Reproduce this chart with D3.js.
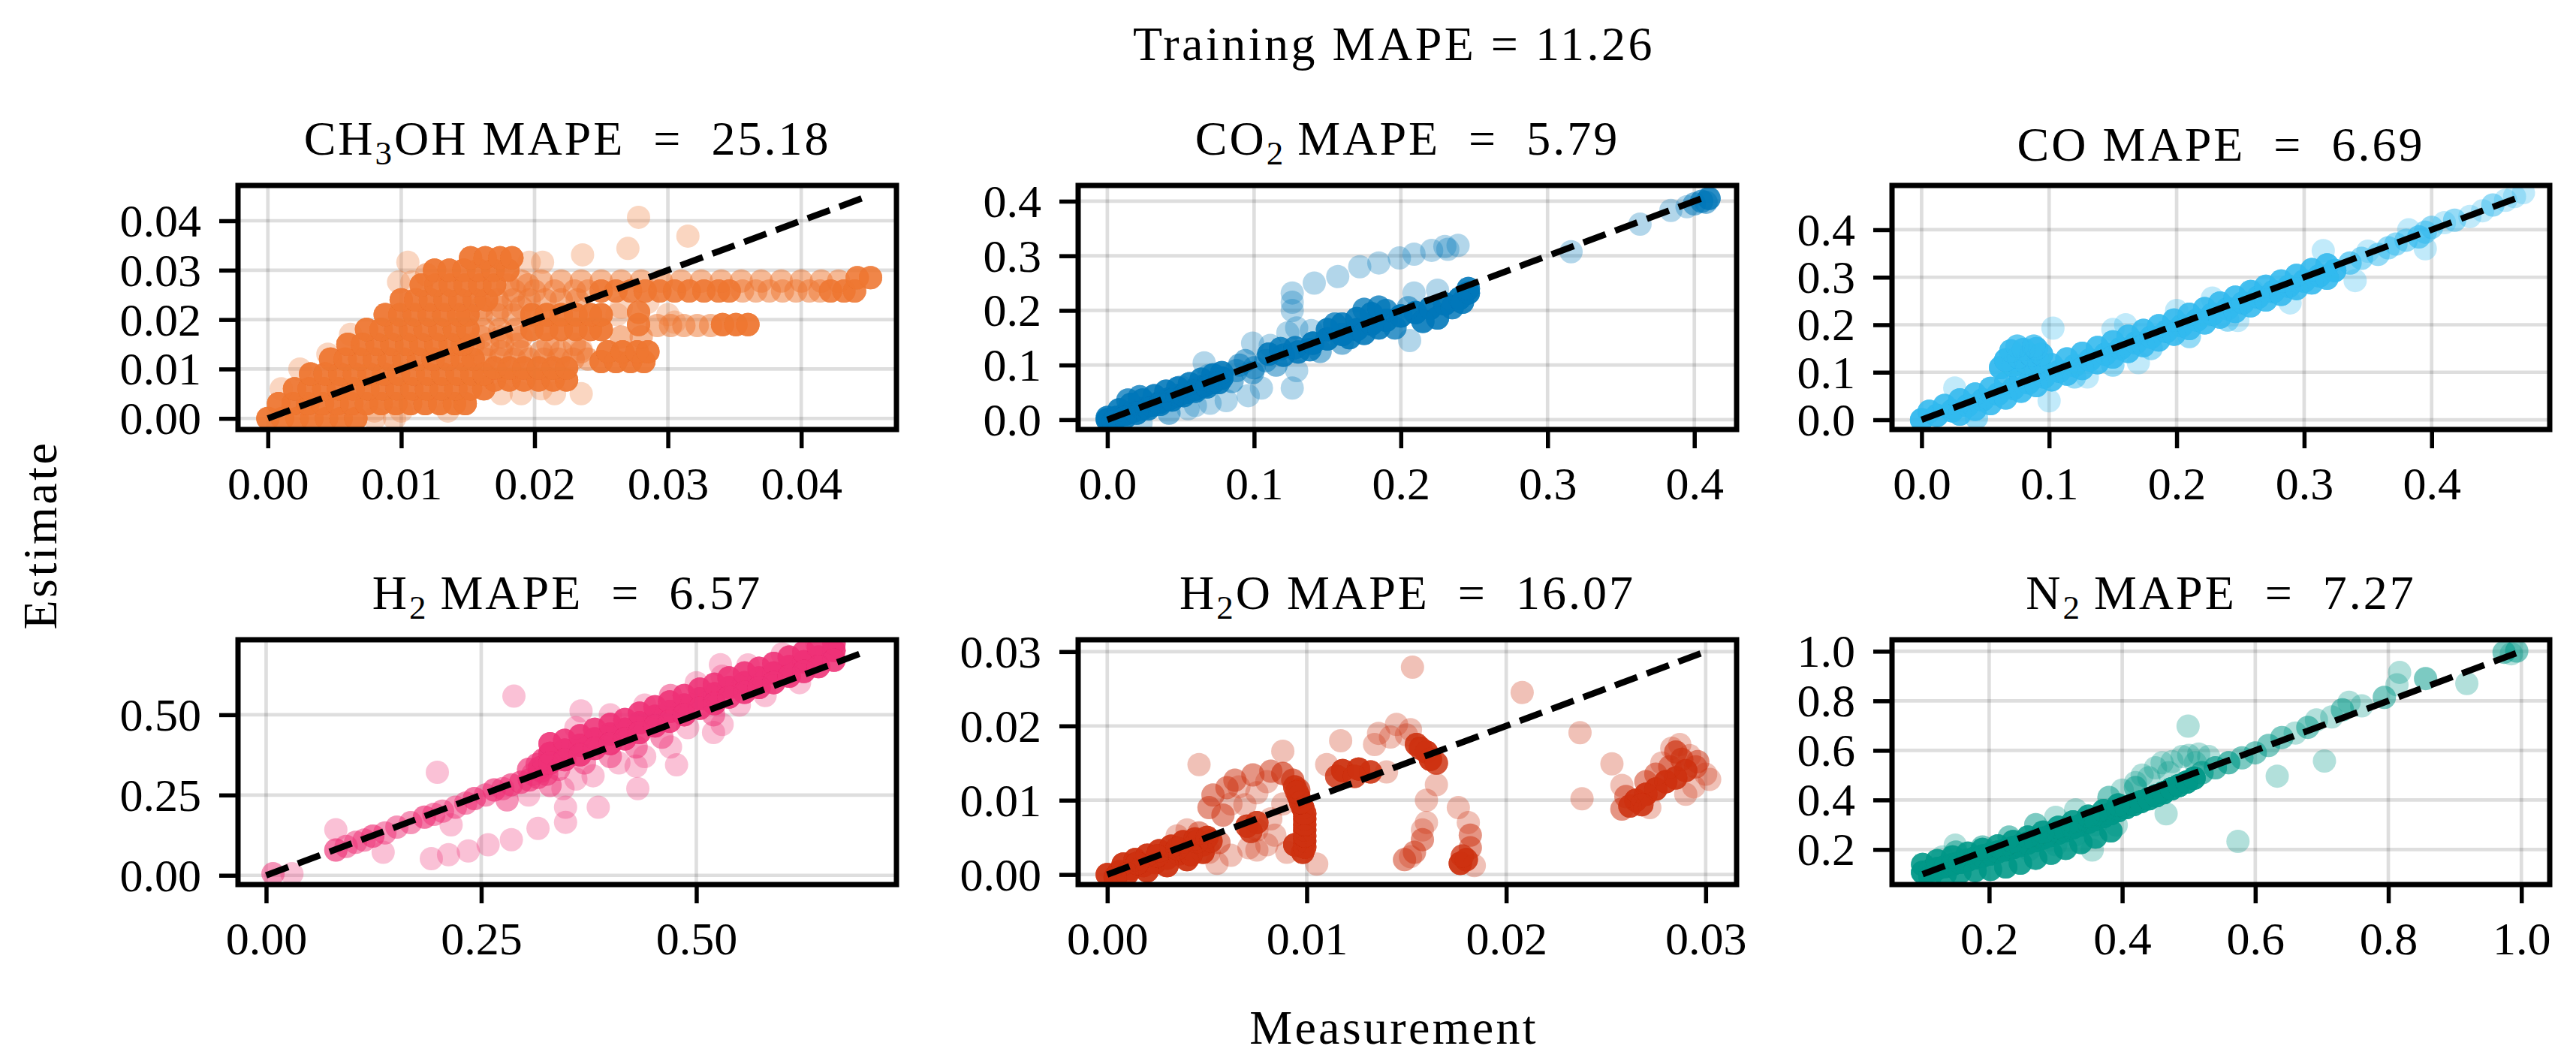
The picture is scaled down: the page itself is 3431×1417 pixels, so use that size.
<!DOCTYPE html>
<html>
<head>
<meta charset="utf-8">
<script src="https://cdn.jsdelivr.net/npm/d3@7"></script>
<style>
  body { margin: 0; background: #fff; }
  text { font-family: 'Liberation Serif', 'Times New Roman', serif; fill: #000; }
</style>
</head>
<body>
<svg id="chart"></svg>
<script>
// panel labels and scores
const species = ['CH3OH', 'CO2', 'CO', 'H2', 'H2O', 'N2'];
const mape = [25.18, 5.79, 6.69, 6.57, 16.07, 7.27];
const trainingMape = 11.26;
const colors = ['#EE7733', '#0077BB', '#33BBEE', '#EE3377', '#CC3311', '#009988'];

// ticks and axis limits, one entry per panel
const xTicks = [[0, 0.01, 0.02, 0.03, 0.04], [0, 0.1, 0.2, 0.3, 0.4], [0, 0.1, 0.2, 0.3, 0.4], [0, 0.25, 0.5], [0, 0.01, 0.02, 0.03], [0.2, 0.4, 0.6, 0.8, 1.0]];
const yTicks = [[0, 0.01, 0.02, 0.03, 0.04], [0, 0.1, 0.2, 0.3, 0.4], [0, 0.1, 0.2, 0.3, 0.4], [0, 0.25, 0.5], [0, 0.01, 0.02, 0.03], [0.2, 0.4, 0.6, 0.8, 1.0]];
const tickFormats = ['.2f', '.1f', '.1f', '.2f', '.2f', '.1f'];
const xLimits = [[-0.00224, 0.04714], [-0.0199, 0.4288], [-0.0232, 0.4926], [-0.0327, 0.7326], [-0.00146, 0.03155], [0.054, 1.0426]];
const yLimits = [[-0.00224, 0.04714], [-0.0180, 0.4288], [-0.0205, 0.4932], [-0.0287, 0.7336], [-0.00135, 0.0316], [0.0586, 1.0465]];
// ends of the dashed y = x reference line
const parityRange = [[0, 0.0449], [0, 0.408], [0, 0.469], [0, 0.697], [0, 0.030], [0.1, 0.998]];

// CH3OH: rows of [estimate, overlapping samples, [measurements]]
const ch3ohRows = [
  [0.0000, 8, [0.0000, 0.0011, 0.0022, 0.0033, 0.0044, 0.0055, 0.0066]],
  [0.0030, 8, [0.0008, 0.0019, 0.0030, 0.0041, 0.0052, 0.0063, 0.0074, 0.0085, 0.0096, 0.0107, 0.0118, 0.0129, 0.0140, 0.0148]],
  [0.0060, 8, [0.0020, 0.0031, 0.0042, 0.0053, 0.0064, 0.0075, 0.0086, 0.0097, 0.0108, 0.0119, 0.0130, 0.0141, 0.0152, 0.0162]],
  [0.0078, 8, [0.0170, 0.0181, 0.0192, 0.0203, 0.0214, 0.0224]],
  [0.0090, 8, [0.0032, 0.0043, 0.0054, 0.0065, 0.0076, 0.0087, 0.0098, 0.0109, 0.0120, 0.0131, 0.0142, 0.0153, 0.0162]],
  [0.0102, 8, [0.0170, 0.0181, 0.0192, 0.0203, 0.0214, 0.0224]],
  [0.0120, 8, [0.0047, 0.0058, 0.0069, 0.0080, 0.0091, 0.0102, 0.0113, 0.0124, 0.0135, 0.0146, 0.0154]],
  [0.0120, 2, [0.0163, 0.0174, 0.0185, 0.0196, 0.0207, 0.0218, 0.0229, 0.0240]],
  [0.0115, 8, [0.0250, 0.0261, 0.0272, 0.0282]],
  [0.0135, 8, [0.0255, 0.0266, 0.0277, 0.0285]],
  [0.0135, 2, [0.0160, 0.0175, 0.0190, 0.0205, 0.0220, 0.0235]],
  [0.0150, 8, [0.0060, 0.0071, 0.0082, 0.0093, 0.0104, 0.0115, 0.0126, 0.0137, 0.0146]],
  [0.0150, 2, [0.0154, 0.0165, 0.0176, 0.0187, 0.0210, 0.0230]],
  [0.0165, 2, [0.0160, 0.0175, 0.0190, 0.0265, 0.0280]],
  [0.0180, 8, [0.0074, 0.0085, 0.0096, 0.0107, 0.0118, 0.0129, 0.0140, 0.0150]],
  [0.0180, 2, [0.0162, 0.0174, 0.0186]],
  [0.0180, 8, [0.0198, 0.0209, 0.0220, 0.0231, 0.0242, 0.0250]],
  [0.0190, 6, [0.0278]],
  [0.0188, 2, [0.0292, 0.0302, 0.0312, 0.0322, 0.0332]],
  [0.0190, 8, [0.0341, 0.0351, 0.0360]],
  [0.0210, 8, [0.0088, 0.0099, 0.0110, 0.0121, 0.0132, 0.0143, 0.0150]],
  [0.0210, 2, [0.0160, 0.0172, 0.0184]],
  [0.0210, 8, [0.0198, 0.0209, 0.0220, 0.0231, 0.0242, 0.0250]],
  [0.0215, 6, [0.0278]],
  [0.0210, 1, [0.0300, 0.0262]],
  [0.0225, 2, [0.0160, 0.0175, 0.0190]],
  [0.0240, 8, [0.0100, 0.0111, 0.0122, 0.0133, 0.0144, 0.0155, 0.0164]],
  [0.0240, 2, [0.0172, 0.0184, 0.0196, 0.0208, 0.0220, 0.0232]],
  [0.0258, 2, [0.0185, 0.0200, 0.0215, 0.0230, 0.0240]],
  [0.0258, 6, [0.0250, 0.0261, 0.0272, 0.0283, 0.0294, 0.0305, 0.0316, 0.0327, 0.0338, 0.0346]],
  [0.0258, 2, [0.0356, 0.0366, 0.0376, 0.0386, 0.0396, 0.0406, 0.0414]],
  [0.0258, 6, [0.0422, 0.0432, 0.0440]],
  [0.0270, 8, [0.0115, 0.0126, 0.0137, 0.0148, 0.0159, 0.0170]],
  [0.0270, 2, [0.0180, 0.0195]],
  [0.0278, 2, [0.0190, 0.0205, 0.0220, 0.0235, 0.0250, 0.0265, 0.0280, 0.0295, 0.0310, 0.0325, 0.0340, 0.0355, 0.0370, 0.0385, 0.0400, 0.0415, 0.0428]],
  [0.0285, 6, [0.0442, 0.0452]],
  [0.0300, 8, [0.0125, 0.0136, 0.0147, 0.0158, 0.0169, 0.0180]],
  [0.0325, 8, [0.0152, 0.0163, 0.0174, 0.0183]],
  [0.0316, 1, [0.0105, 0.0196, 0.0206]],
  [0.0276, 1, [0.0098, 0.0108]],
  [0.0291, 2, [0.0119]],
  [0.0170, 1, [0.0062]],
  [0.0130, 1, [0.0045]],
  [0.0100, 1, [0.0024]],
  [0.0060, 1, [0.0010]],
  [0.0331, 1, [0.0236]],
  [0.0344, 1, [0.0270]],
  [0.0407, 1, [0.0278]],
  [0.0369, 1, [0.0315]],
  [0.0015, 1, [0.0135, 0.0100, 0.0080]],
  [0.0050, 1, [0.0175, 0.0190, 0.0215, 0.0235]],
  [0.0060, 1, [0.0205]],
  [0.0195, 1, [0.0305]],
  [0.0235, 1, [0.0285]],
  [0.0225, 1, [0.0265]],
  [0.0140, 1, [0.0215, 0.0235]],
  [0.0000, 1, [0.0080, 0.0095]]
];

// other panels: [measurement, estimate, overlapping samples]
const co2Points = [
  [0.000, 0.000, 8], [0.006, 0.004, 8], [0.012, 0.010, 8], [0.018, 0.016, 8], [0.024, 0.020, 8], [0.030, 0.026, 8], [0.036, 0.032, 8],
  [0.042, 0.038, 8], [0.048, 0.044, 8], [0.054, 0.050, 8], [0.060, 0.056, 8], [0.066, 0.062, 8], [0.072, 0.068, 8], [0.078, 0.076, 8],
  [0.000, 0.004, 6], [0.008, 0.018, 6], [0.016, 0.028, 6], [0.024, 0.036, 6], [0.032, 0.044, 6], [0.040, 0.052, 6], [0.048, 0.058, 6],
  [0.056, 0.066, 6], [0.064, 0.074, 6], [0.072, 0.082, 6], [0.078, 0.086, 6], [0.014, 0.036, 4], [0.022, 0.042, 4],
  [0.004, -0.004, 6], [0.012, 0.004, 6], [0.020, 0.012, 6], [0.028, 0.020, 6], [0.036, 0.028, 6], [0.044, 0.036, 6], [0.052, 0.044, 6],
  [0.060, 0.052, 6], [0.068, 0.060, 6], [0.076, 0.068, 6],
  [0.023, -0.006, 1], [0.042, 0.012, 2], [0.055, 0.020, 1], [0.060, 0.026, 1], [0.070, 0.030, 1], [0.081, 0.035, 1], [0.066, 0.104, 1],
  [0.069, 0.081, 1], [0.050, 0.060, 1], [0.085, 0.070, 2],
  [0.096, 0.044, 1], [0.105, 0.058, 1], [0.099, 0.086, 2], [0.094, 0.108, 2], [0.099, 0.140, 1], [0.111, 0.136, 1], [0.108, 0.108, 2],
  [0.126, 0.058, 1], [0.129, 0.090, 1], [0.123, 0.159, 1], [0.126, 0.200, 1], [0.126, 0.215, 1], [0.090, 0.100, 2], [0.088, 0.090, 2],
  [0.100, 0.095, 2], [0.115, 0.100, 2],
  [0.110, 0.120, 6], [0.120, 0.118, 6], [0.130, 0.124, 6], [0.118, 0.130, 5], [0.128, 0.132, 5], [0.138, 0.128, 5],
  [0.140, 0.140, 8], [0.150, 0.148, 8], [0.160, 0.156, 8], [0.170, 0.165, 8], [0.180, 0.175, 8], [0.190, 0.182, 8], [0.200, 0.190, 8],
  [0.210, 0.196, 8], [0.220, 0.204, 8], [0.230, 0.212, 8], [0.240, 0.222, 8], [0.246, 0.232, 8], [0.246, 0.240, 6],
  [0.150, 0.165, 6], [0.160, 0.175, 6], [0.170, 0.185, 6], [0.180, 0.194, 6], [0.175, 0.202, 4], [0.165, 0.150, 6], [0.175, 0.158, 6],
  [0.185, 0.168, 6], [0.190, 0.200, 4], [0.185, 0.206, 4], [0.155, 0.175, 4], [0.215, 0.180, 6], [0.225, 0.186, 6], [0.235, 0.205, 5],
  [0.242, 0.215, 6], [0.205, 0.205, 2], [0.196, 0.168, 4],
  [0.206, 0.145, 1], [0.209, 0.232, 1], [0.225, 0.237, 1], [0.139, 0.163, 1], [0.129, 0.168, 1], [0.145, 0.125, 2], [0.160, 0.140, 2],
  [0.126, 0.232, 1], [0.141, 0.250, 1], [0.157, 0.262, 1], [0.172, 0.280, 1], [0.185, 0.287, 1], [0.199, 0.296, 1], [0.209, 0.303, 1],
  [0.221, 0.310, 1], [0.230, 0.317, 1], [0.239, 0.319, 1], [0.232, 0.312, 1],
  [0.316, 0.3075, 1], [0.363, 0.358, 1], [0.384, 0.383, 1], [0.395, 0.390, 1], [0.400, 0.395, 2], [0.405, 0.400, 3], [0.410, 0.405, 5],
  [0.408, 0.398, 2]
];

const coPoints = [
  [0.000, 0.000, 8], [0.012, 0.009, 8], [0.024, 0.019, 8], [0.036, 0.030, 8], [0.048, 0.042, 8], [0.060, 0.054, 8], [0.072, 0.066, 8],
  [0.084, 0.078, 8], [0.096, 0.090, 8], [0.108, 0.102, 8], [0.120, 0.114, 8], [0.132, 0.126, 8], [0.144, 0.138, 8], [0.156, 0.150, 8],
  [0.168, 0.162, 8], [0.180, 0.174, 8], [0.192, 0.186, 8], [0.204, 0.198, 8], [0.216, 0.210, 8], [0.228, 0.222, 8], [0.240, 0.234, 8],
  [0.252, 0.246, 8], [0.264, 0.258, 8], [0.276, 0.270, 8], [0.288, 0.281, 8], [0.300, 0.292, 8], [0.312, 0.303, 8], [0.324, 0.314, 8],
  [0.006, 0.018, 6], [0.018, 0.030, 6], [0.030, 0.042, 6], [0.042, 0.054, 6], [0.054, 0.066, 6], [0.066, 0.078, 6], [0.078, 0.090, 6],
  [0.090, 0.104, 6], [0.102, 0.116, 6], [0.114, 0.128, 6], [0.126, 0.140, 6], [0.138, 0.152, 6], [0.150, 0.164, 6], [0.162, 0.176, 6],
  [0.174, 0.188, 6], [0.186, 0.198, 6], [0.198, 0.210, 6], [0.210, 0.222, 6], [0.222, 0.234, 6], [0.234, 0.246, 6], [0.246, 0.258, 6],
  [0.258, 0.270, 6], [0.270, 0.281, 6], [0.282, 0.292, 6], [0.294, 0.304, 6], [0.306, 0.316, 6], [0.318, 0.326, 6],
  [0.030, 0.012, 6], [0.042, 0.022, 6], [0.054, 0.034, 6], [0.066, 0.046, 6], [0.078, 0.060, 6], [0.090, 0.072, 6], [0.102, 0.084, 6],
  [0.114, 0.096, 6], [0.126, 0.108, 6], [0.138, 0.120, 6], [0.150, 0.132, 6], [0.162, 0.144, 6], [0.174, 0.156, 6], [0.186, 0.168, 6],
  [0.198, 0.180, 6], [0.210, 0.192, 6], [0.222, 0.204, 6], [0.234, 0.216, 6], [0.246, 0.228, 6], [0.258, 0.240, 6], [0.270, 0.252, 6],
  [0.282, 0.264, 6], [0.294, 0.276, 6], [0.306, 0.288, 6], [0.318, 0.298, 6],
  [0.120, 0.090, 2], [0.150, 0.115, 2], [0.180, 0.150, 2], [0.210, 0.175, 2], [0.240, 0.210, 2],
  [0.062, 0.110, 8], [0.072, 0.115, 8], [0.082, 0.120, 8], [0.092, 0.122, 8], [0.066, 0.126, 8], [0.076, 0.132, 8], [0.086, 0.136, 8],
  [0.094, 0.138, 8], [0.070, 0.145, 6], [0.080, 0.148, 6], [0.090, 0.150, 6], [0.075, 0.155, 4], [0.088, 0.155, 4],
  [0.103, 0.193, 1], [0.026, 0.067, 1], [0.043, 0.004, 2], [0.248, 0.209, 1], [0.289, 0.246, 1], [0.340, 0.293, 1], [0.315, 0.356, 1],
  [0.150, 0.190, 1], [0.160, 0.200, 1], [0.170, 0.120, 1], [0.130, 0.090, 1], [0.100, 0.040, 1], [0.200, 0.230, 1], [0.228, 0.256, 1],
  [0.260, 0.270, 1],
  [0.336, 0.330, 3], [0.345, 0.340, 2], [0.350, 0.355, 1], [0.358, 0.348, 2], [0.366, 0.362, 2], [0.372, 0.370, 2], [0.380, 0.378, 2],
  [0.390, 0.385, 3], [0.395, 0.395, 2], [0.400, 0.405, 2], [0.410, 0.415, 1], [0.418, 0.420, 2], [0.430, 0.428, 1], [0.440, 0.440, 1],
  [0.448, 0.452, 2], [0.458, 0.462, 1], [0.465, 0.470, 1], [0.472, 0.478, 1], [0.382, 0.400, 1], [0.395, 0.360, 1]
];

const h2Points = [
  [0.008, 0.005, 2], [0.030, 0.005, 1],
  [0.081, 0.079, 3], [0.093, 0.090, 2], [0.104, 0.103, 2], [0.114, 0.110, 2], [0.124, 0.122, 3], [0.138, 0.132, 2], [0.152, 0.150, 2],
  [0.168, 0.164, 2], [0.184, 0.181, 3], [0.195, 0.190, 2], [0.205, 0.200, 2], [0.220, 0.212, 2], [0.232, 0.225, 2], [0.242, 0.239, 3],
  [0.255, 0.250, 2], [0.265, 0.266, 3], [0.275, 0.270, 2], [0.285, 0.282, 3], [0.296, 0.290, 3], [0.306, 0.297, 3], [0.316, 0.305, 3],
  [0.326, 0.315, 3],
  [0.305, 0.330, 3], [0.315, 0.345, 3], [0.320, 0.325, 3], [0.310, 0.315, 2], [0.318, 0.335, 5], [0.322, 0.360, 4],
  [0.081, 0.142, 1], [0.199, 0.321, 1], [0.288, 0.558, 1], [0.136, 0.072, 1], [0.215, 0.157, 1], [0.192, 0.052, 1], [0.212, 0.064, 1],
  [0.235, 0.076, 1], [0.258, 0.095, 1], [0.285, 0.111, 1], [0.316, 0.146, 1], [0.348, 0.165, 1], [0.348, 0.212, 1], [0.386, 0.212, 1],
  [0.432, 0.270, 1], [0.366, 0.512, 1], [0.477, 0.344, 1], [0.520, 0.445, 1], [0.528, 0.656, 1], [0.305, 0.250, 1], [0.280, 0.235, 2],
  [0.330, 0.280, 2], [0.345, 0.270, 1],
  [0.330, 0.380, 8], [0.347, 0.390, 8], [0.365, 0.405, 8], [0.382, 0.425, 8], [0.400, 0.440, 8], [0.417, 0.455, 8], [0.434, 0.475, 8],
  [0.452, 0.495, 8], [0.469, 0.510, 8], [0.486, 0.530, 8], [0.504, 0.550, 8], [0.521, 0.565, 8], [0.538, 0.585, 8], [0.556, 0.600, 8],
  [0.573, 0.615, 8], [0.590, 0.630, 8], [0.608, 0.650, 8], [0.625, 0.665, 8], [0.642, 0.680, 8], [0.660, 0.700, 8],
  [0.330, 0.410, 6], [0.347, 0.420, 6], [0.365, 0.435, 6], [0.382, 0.455, 6], [0.400, 0.470, 6], [0.417, 0.485, 6], [0.434, 0.505, 6],
  [0.452, 0.525, 6], [0.469, 0.540, 6], [0.486, 0.560, 6], [0.504, 0.580, 6], [0.521, 0.595, 6], [0.538, 0.615, 6], [0.556, 0.630, 6],
  [0.573, 0.645, 6], [0.590, 0.660, 6], [0.608, 0.680, 6], [0.625, 0.695, 6], [0.642, 0.710, 6], [0.660, 0.722, 6],
  [0.330, 0.350, 6], [0.347, 0.360, 6], [0.365, 0.375, 6], [0.382, 0.395, 6], [0.400, 0.410, 6], [0.417, 0.425, 6], [0.434, 0.445, 6],
  [0.452, 0.465, 6], [0.469, 0.480, 6], [0.486, 0.500, 6], [0.504, 0.520, 6], [0.521, 0.535, 6], [0.538, 0.555, 6], [0.556, 0.570, 6],
  [0.573, 0.585, 6], [0.590, 0.600, 6], [0.608, 0.620, 6], [0.625, 0.635, 6], [0.642, 0.650, 6], [0.660, 0.670, 6],
  [0.360, 0.460, 1], [0.400, 0.500, 1], [0.440, 0.530, 1], [0.470, 0.560, 2], [0.500, 0.600, 1], [0.530, 0.620, 1], [0.560, 0.655, 1],
  [0.600, 0.690, 1], [0.640, 0.720, 1],
  [0.340, 0.330, 2], [0.370, 0.350, 2], [0.400, 0.370, 2], [0.430, 0.400, 2], [0.460, 0.430, 2], [0.490, 0.460, 1], [0.520, 0.500, 2],
  [0.550, 0.530, 1], [0.580, 0.560, 1], [0.620, 0.600, 1], [0.410, 0.350, 1], [0.440, 0.370, 1], [0.470, 0.400, 1], [0.530, 0.470, 1],
  [0.360, 0.300, 1], [0.380, 0.310, 1], [0.430, 0.340, 1]
];

const h2oPoints = [
  [0.0000, 0.0000, 8], [0.0006, 0.0004, 8], [0.0012, 0.0008, 8], [0.0018, 0.0012, 8], [0.0024, 0.0016, 8], [0.0030, 0.0022, 8],
  [0.0036, 0.0028, 8], [0.0042, 0.0034, 8], [0.0048, 0.0040, 8], [0.0008, 0.0014, 8], [0.0014, 0.0020, 8], [0.0020, 0.0026, 8],
  [0.0026, 0.0032, 8], [0.0032, 0.0038, 8], [0.0038, 0.0044, 8], [0.0044, 0.0048, 8], [0.0050, 0.0050, 8], [0.0048, 0.0030, 8],
  [0.0040, 0.0020, 8], [0.0030, 0.0012, 8], [0.0020, 0.0005, 8], [0.0010, 0.0001, 8], [0.0004, -0.0004, 8],
  [0.0045, 0.0044, 8], [0.0035, 0.0035, 8], [0.0025, 0.0025, 8], [0.0015, 0.0015, 8], [0.0042, 0.0027, 8], [0.0052, 0.0045, 6],
  [0.0051, 0.0030, 1], [0.0062, 0.0026, 1], [0.0056, 0.0043, 2], [0.0071, 0.0036, 1], [0.0080, 0.0040, 1], [0.0084, 0.0053, 1],
  [0.0075, 0.0060, 1], [0.0055, 0.0015, 1], [0.0046, 0.0056, 2], [0.0040, 0.0060, 1], [0.0035, 0.0052, 1],
  [0.0046, 0.0148, 1], [0.0088, 0.0166, 1], [0.0105, 0.0014, 1], [0.0153, 0.0279, 1], [0.0208, 0.0245, 1], [0.0237, 0.0191, 1],
  [0.0238, 0.0102, 1], [0.0253, 0.0149, 1],
  [0.0051, 0.0090, 2], [0.0053, 0.0107, 2], [0.0060, 0.0117, 2], [0.0064, 0.0127, 2], [0.0073, 0.0134, 2], [0.0082, 0.0139, 2],
  [0.0088, 0.0136, 3], [0.0093, 0.0127, 3], [0.0096, 0.0114, 3], [0.0058, 0.0080, 2], [0.0062, 0.0095, 1], [0.0069, 0.0094, 1],
  [0.0075, 0.0110, 1], [0.0080, 0.0125, 1], [0.0066, 0.0118, 1],
  [0.0098, 0.0030, 8], [0.0099, 0.0045, 8], [0.0099, 0.0060, 8], [0.0099, 0.0075, 8], [0.0098, 0.0090, 8], [0.0096, 0.0105, 8],
  [0.0094, 0.0118, 6], [0.0094, 0.0040, 8], [0.0099, 0.0037, 8], [0.0099, 0.0052, 8], [0.0099, 0.0067, 8], [0.0099, 0.0082, 8],
  [0.0097, 0.0097, 8], [0.0095, 0.0111, 6],
  [0.0082, 0.0075, 1], [0.0088, 0.0095, 1], [0.0075, 0.0033, 1], [0.0090, 0.0030, 1],
  [0.0070, 0.0065, 6], [0.0075, 0.0070, 6], [0.0072, 0.0058, 5],
  [0.0118, 0.0140, 8], [0.0126, 0.0142, 8], [0.0132, 0.0138, 6], [0.0115, 0.0132, 5], [0.0124, 0.0132, 5],
  [0.0110, 0.0148, 1], [0.0117, 0.0180, 1], [0.0136, 0.0190, 1], [0.0145, 0.0202, 1], [0.0152, 0.0195, 1], [0.0140, 0.0138, 1],
  [0.0134, 0.0175, 1], [0.0142, 0.0185, 1], [0.0150, 0.0188, 1],
  [0.0155, 0.0175, 6], [0.0160, 0.0165, 8], [0.0162, 0.0155, 8], [0.0157, 0.0170, 6], [0.0165, 0.0150, 5],
  [0.0165, 0.0121, 1], [0.0160, 0.0100, 1], [0.0160, 0.0070, 1], [0.0158, 0.0047, 2], [0.0154, 0.0030, 2], [0.0149, 0.0020, 2],
  [0.0158, 0.0060, 1], [0.0152, 0.0024, 1],
  [0.0176, 0.0090, 1], [0.0181, 0.0070, 1], [0.0182, 0.0053, 2], [0.0182, 0.0036, 2], [0.0177, 0.0015, 8], [0.0180, 0.0020, 6],
  [0.0178, 0.0025, 4], [0.0184, 0.0012, 1],
  [0.0265, 0.0100, 8], [0.0270, 0.0108, 8], [0.0275, 0.0115, 8], [0.0280, 0.0125, 8], [0.0285, 0.0130, 7], [0.0262, 0.0092, 6],
  [0.0268, 0.0094, 6], [0.0290, 0.0140, 6], [0.0288, 0.0155, 3], [0.0285, 0.0165, 3], [0.0292, 0.0160, 1], [0.0295, 0.0145, 2],
  [0.0300, 0.0135, 1], [0.0302, 0.0128, 1], [0.0278, 0.0150, 1], [0.0258, 0.0120, 1], [0.0272, 0.0090, 1], [0.0294, 0.0118, 1],
  [0.0290, 0.0108, 1], [0.0283, 0.0170, 1], [0.0275, 0.0135, 2], [0.0282, 0.0145, 2], [0.0270, 0.0125, 2], [0.0296, 0.0152, 2],
  [0.0287, 0.0175, 1], [0.0260, 0.0105, 2], [0.0258, 0.0088, 2]
];

const n2Points = [
  [0.100, 0.108, 8], [0.111, 0.115, 8], [0.122, 0.123, 8], [0.134, 0.131, 8], [0.145, 0.140, 8], [0.156, 0.148, 8], [0.168, 0.157, 8],
  [0.179, 0.166, 8], [0.190, 0.174, 8], [0.202, 0.182, 8], [0.213, 0.190, 8], [0.225, 0.199, 8], [0.236, 0.208, 8], [0.247, 0.217, 8],
  [0.258, 0.226, 8], [0.270, 0.236, 8], [0.281, 0.246, 8], [0.293, 0.256, 8], [0.304, 0.266, 8], [0.315, 0.277, 8], [0.326, 0.288, 8],
  [0.338, 0.299, 8], [0.349, 0.310, 8], [0.360, 0.321, 8], [0.372, 0.333, 8], [0.383, 0.345, 8], [0.394, 0.357, 8], [0.406, 0.369, 8],
  [0.417, 0.381, 8], [0.428, 0.393, 8], [0.440, 0.405, 8], [0.451, 0.417, 8], [0.462, 0.429, 8], [0.474, 0.445, 8], [0.485, 0.458, 8],
  [0.497, 0.472, 8], [0.508, 0.488, 8],
  [0.100, 0.140, 6], [0.122, 0.155, 6], [0.145, 0.170, 6], [0.168, 0.185, 6], [0.190, 0.200, 6], [0.213, 0.215, 6], [0.236, 0.232, 6],
  [0.258, 0.250, 6], [0.281, 0.270, 6], [0.304, 0.290, 6], [0.326, 0.312, 6], [0.349, 0.334, 6], [0.372, 0.357, 6], [0.394, 0.380, 6],
  [0.111, 0.090, 6], [0.134, 0.100, 6], [0.156, 0.108, 6], [0.179, 0.115, 6], [0.202, 0.120, 6], [0.225, 0.130, 6], [0.247, 0.145, 6],
  [0.270, 0.165, 6], [0.293, 0.185, 6], [0.315, 0.205, 6], [0.338, 0.228, 6], [0.360, 0.250, 6], [0.383, 0.275, 6],
  [0.130, 0.170, 1], [0.150, 0.190, 2], [0.190, 0.210, 2], [0.230, 0.250, 2], [0.270, 0.300, 2], [0.300, 0.330, 1], [0.330, 0.360, 1],
  [0.380, 0.410, 2], [0.420, 0.450, 2], [0.260, 0.200, 1], [0.300, 0.220, 1], [0.330, 0.260, 1], [0.360, 0.300, 1],
  [0.400, 0.440, 1], [0.420, 0.470, 1], [0.430, 0.500, 1], [0.450, 0.530, 1], [0.460, 0.550, 1], [0.475, 0.555, 1], [0.490, 0.575, 1],
  [0.500, 0.580, 1], [0.515, 0.585, 1], [0.530, 0.575, 1], [0.510, 0.550, 1], [0.470, 0.510, 1], [0.440, 0.490, 1],
  [0.520, 0.510, 3], [0.540, 0.530, 3], [0.560, 0.550, 3], [0.580, 0.570, 2], [0.600, 0.590, 2], [0.620, 0.620, 2], [0.640, 0.652, 2],
  [0.660, 0.670, 1], [0.679, 0.693, 2], [0.692, 0.723, 1], [0.715, 0.735, 1], [0.731, 0.764, 2], [0.741, 0.794, 1], [0.760, 0.780, 1],
  [0.794, 0.814, 2], [0.813, 0.865, 1], [0.817, 0.915, 1], [0.856, 0.890, 2], [0.918, 0.870, 1], [0.974, 0.996, 2], [0.993, 1.001, 2],
  [0.985, 0.990, 1],
  [0.499, 0.698, 1], [0.633, 0.496, 1], [0.704, 0.557, 1], [0.574, 0.233, 1], [0.466, 0.344, 1], [0.355, 0.198, 1], [0.391, 0.299, 1],
  [0.149, 0.218, 1]
];

// figure geometry (pixels)
const width = 3431, height = 1417;
const cols = [[317, 1194], [1436, 2313], [2520, 3396]];
const rows = [[247, 572], [852, 1178]];
const fontSize = 64;
const tickFontSize = 62;

const svg = d3.select('#chart').attr('width', width).attr('height', height);
const defs = svg.append('defs');

const ch3ohPoints = ch3ohRows.flatMap(([yv, n, xs]) => xs.map(xv => [xv, yv, n]));
const allPoints = [ch3ohPoints, co2Points, coPoints, h2Points, h2oPoints, n2Points];

// title with subscript digits, laid out as separate runs side by side
function drawTitle(g, label, score, cx, baseline) {
  const runs = label.match(/[A-Za-z]+|\d+/g).map(t => ({ t, sub: /^\d+$/.test(t) }));
  const tail = ' MAPE  =  ' + d3.format('.2f')(score);
  if (runs[runs.length - 1].sub) runs.push({ t: tail.trimStart(), sub: false, lead: true });
  else runs[runs.length - 1].t += tail;

  const nodes = runs.map(r => g.append('text')
    .attr('y', baseline + (r.sub ? 13 : 0))
    .style('font-size', (r.sub ? 45 : fontSize) + 'px')
    .style('letter-spacing', '3px')
    .style('white-space', 'pre')
    .text(r.t));
  const widths = nodes.map((n, k) => n.node().getComputedTextLength() + (runs[k].lead ? 16 : 0));
  let cursor = cx - d3.sum(widths) / 2;
  nodes.forEach((n, k) => {
    n.attr('x', cursor + (runs[k].lead ? 16 : 0));
    cursor += widths[k];
  });
}

function drawPanel(i) {
  const [x0, x1] = cols[i % 3];
  const [y0, y1] = rows[Math.floor(i / 3)];
  const x = d3.scaleLinear().domain(xLimits[i]).range([x0, x1]);
  const y = d3.scaleLinear().domain(yLimits[i]).range([y1, y0]);
  const g = svg.append('g');

  defs.append('clipPath').attr('id', 'clip' + i)
    .append('rect').attr('x', x0).attr('y', y0).attr('width', x1 - x0).attr('height', y1 - y0);

  // grid
  const grid = g.append('g').attr('stroke', '#000').attr('stroke-opacity', 0.13).attr('stroke-width', 4.7);
  grid.selectAll('.gx').data(xTicks[i]).join('line')
    .attr('x1', d => x(d)).attr('x2', d => x(d)).attr('y1', y0).attr('y2', y1);
  grid.selectAll('.gy').data(yTicks[i]).join('line')
    .attr('x1', x0).attr('x2', x1).attr('y1', d => y(d)).attr('y2', d => y(d));

  // scatter (a point with count n is drawn n times on top of itself)
  const marks = allPoints[i].flatMap(p => d3.range(p[2] || 1).map(() => p));
  g.append('g').attr('clip-path', `url(#clip${i})`)
    .selectAll('circle').data(marks).join('circle')
    .attr('cx', d => x(d[0])).attr('cy', d => y(d[1]))
    .attr('r', 15.5)
    .attr('fill', colors[i])
    .attr('fill-opacity', 0.3);

  // y = x reference
  const [lo, hi] = parityRange[i];
  g.append('line')
    .attr('x1', x(lo)).attr('y1', y(lo)).attr('x2', x(hi)).attr('y2', y(hi))
    .attr('stroke', '#000').attr('stroke-width', 8.5)
    .attr('stroke-dasharray', '31.5,13.6');

  // frame
  g.append('rect')
    .attr('x', x0).attr('y', y0).attr('width', x1 - x0).attr('height', y1 - y0)
    .attr('fill', 'none').attr('stroke', '#000').attr('stroke-width', 7);

  // axes
  const fmt = d3.format(tickFormats[i]);
  const ax = g.append('g').attr('transform', `translate(0,${y1})`)
    .call(d3.axisBottom(x).tickValues(xTicks[i]).tickFormat(fmt).tickSize(25));
  ax.select('.domain').remove();
  ax.selectAll('line').attr('stroke-width', 5.5);
  ax.selectAll('text').attr('y', 93).attr('dy', 0)
    .style('font-size', tickFontSize + 'px').style('font-family', "'Liberation Serif', serif");

  const ay = g.append('g').attr('transform', `translate(${x0},0)`)
    .call(d3.axisLeft(y).tickValues(yTicks[i]).tickFormat(fmt).tickSize(25));
  ay.select('.domain').remove();
  ay.selectAll('line').attr('stroke-width', 5.5);
  ay.selectAll('text').attr('x', -49).attr('dy', '0.33em')
    .style('font-size', tickFontSize + 'px').style('font-family', "'Liberation Serif', serif");

  // title
  const hasSub = /\d/.test(species[i]);
  drawTitle(g, species[i], mape[i], (x0 + x1) / 2, y0 - (hasSub ? 41 : 33));
}

d3.range(species.length).forEach(drawPanel);

// figure texts
const midX = (cols[0][0] + cols[2][1]) / 2;
svg.append('text')
  .attr('x', midX).attr('y', 80).attr('text-anchor', 'middle')
  .style('font-size', fontSize + 'px').style('letter-spacing', '3.5px')
  .text(`Training MAPE = ${trainingMape}`);

svg.append('text')
  .attr('x', midX).attr('y', 1390).attr('text-anchor', 'middle')
  .style('font-size', fontSize + 'px').style('letter-spacing', '3.3px')
  .text('Measurement');

svg.append('text')
  .attr('transform', `translate(75,${(rows[0][0] + rows[1][1]) / 2}) rotate(-90)`)
  .attr('text-anchor', 'middle')
  .style('font-size', fontSize + 'px').style('letter-spacing', '3.5px')
  .text('Estimate');
</script>
</body>
</html>
